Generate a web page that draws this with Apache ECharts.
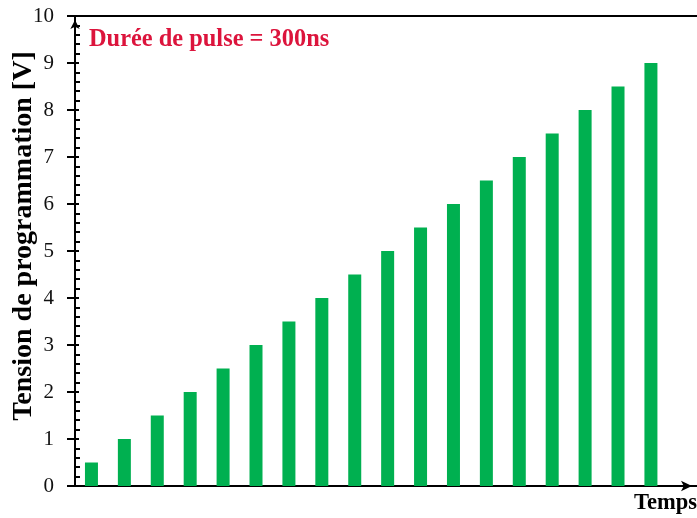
<!DOCTYPE html>
<html>
<head>
<meta charset="utf-8">
<script src="https://cdn.jsdelivr.net/npm/echarts@6/dist/echarts.min.js"></script>
<style>
  html, body { margin: 0; padding: 0; background: #fff; }
  #chart { width: 697px; height: 518px; }
</style>
</head>
<body>
<div id="chart"></div>
<script>
// Pulse index along the time axis and programming voltage of each pulse
const pulses = [1, 2, 3, 4, 5, 6, 7, 8, 9, 10, 11, 12, 13, 14, 15, 16, 17, 18];
const voltages = [0.5, 1, 1.5, 2, 2.5, 3, 3.5, 4, 4.5, 5, 5.5, 6, 6.5, 7, 7.5, 8, 8.5, 9];
const yTicks = [0, 1, 2, 3, 4, 5, 6, 7, 8, 9, 10];

const serif = '"Liberation Serif", "Times New Roman", serif';
const chart = echarts.init(document.getElementById('chart'), null, { renderer: 'canvas' });

const xRange = { min: 0.5, max: 19.4 };

chart.setOption({
  animation: false,
  backgroundColor: '#ffffff',
  grid: { left: 75, right: 0, top: 16, bottom: 32, containLabel: false },
  xAxis: [
    {
      type: 'value', position: 'bottom', ...xRange,
      axisLine: {
        show: true, onZero: false,
        lineStyle: { color: '#000', width: 2 },
        symbol: ['none', 'arrow'], symbolSize: [8, 11], symbolOffset: [0, -5]
      },
      axisTick: { show: false }, axisLabel: { show: false }, splitLine: { show: false }
    },
    {
      type: 'value', position: 'top', ...xRange,
      axisLine: { show: true, onZero: false, lineStyle: { color: '#000', width: 2 } },
      axisTick: { show: false }, axisLabel: { show: false }, splitLine: { show: false }
    }
  ],
  yAxis: [
    {
      type: 'value', min: yTicks[0], max: yTicks[yTicks.length - 1], interval: 1,
      axisLine: {
        show: true, onZero: false,
        lineStyle: { color: '#000', width: 2 },
        symbol: ['none', 'arrow'], symbolSize: [7, 9], symbolOffset: [0, -4]
      },
      axisTick: { show: true, length: 8, lineStyle: { color: '#000', width: 2 } },
      axisLabel: {
        show: true, margin: 21, color: '#111',
        fontFamily: serif, fontSize: 21,
        formatter: v => (yTicks.includes(v) ? String(v) : '')
      },
      splitLine: { show: false }
    },
    {
      type: 'value', min: yTicks[0], max: yTicks[yTicks.length - 1], interval: 1,
      position: 'left',
      axisLine: { show: false },
      axisTick: { show: true, inside: true, length: 4, lineStyle: { color: '#000', width: 2 } },
      minorTick: { show: true, splitNumber: 5, length: 5, lineStyle: { color: '#000', width: 2 } },
      axisLabel: { show: false },
      splitLine: { show: false }
    }
  ],
  series: [
    {
      type: 'bar',
      xAxisIndex: 0, yAxisIndex: 0,
      barWidth: 13,
      itemStyle: { color: '#00b050' },
      data: pulses.map((p, i) => [p, voltages[i]])
    }
  ],
  graphic: [
    {
      type: 'text', x: 24, y: 236, rotation: Math.PI / 2,
      style: {
        text: 'Tension de programmation [V]',
        font: 'bold 28px ' + serif, fill: '#000',
        textAlign: 'center', textVerticalAlign: 'middle'
      }
    },
    {
      type: 'text', x: 89, y: 40,
      style: {
        text: 'Durée de pulse = 300ns',
        font: 'bold 24.4px ' + serif, fill: '#dc143c',
        textAlign: 'left', textVerticalAlign: 'middle'
      }
    },
    {
      type: 'text', x: 697, y: 503,
      style: {
        text: 'Temps',
        font: 'bold 22.5px ' + serif, fill: '#000',
        textAlign: 'right', textVerticalAlign: 'middle'
      }
    }
  ]
});
</script>
</body>
</html>
